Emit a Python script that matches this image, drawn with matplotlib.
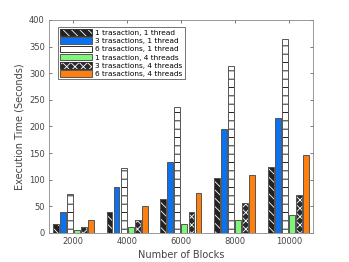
import numpy as np
import matplotlib
matplotlib.use("Agg")
import matplotlib.pyplot as plt

blocks = ["2000", "4000", "6000", "8000", "10000"]
labels = ["1 trasaction, 1 thread", "3 trasactions, 1 thread", "6 trasactions, 1 thread",
          "1 trasaction, 4 threads", "3 trasactions, 4 threads", "6 trasactions, 4 threads"]
t1_1 = [17, 40, 64, 104, 123]
t3_1 = [40, 87, 134, 195, 216]
t6_1 = [73, 122, 237, 314, 365]
t1_4 = [5, 11, 17, 25, 33]
t3_4 = [11, 25, 40, 57, 72]
t6_4 = [24, 50, 75, 109, 146]
series = [t1_1, t3_1, t6_1, t1_4, t3_4, t6_4]

# face, hatch colour, hatch
styles = [("#222222", "white", "\\\\\\\\"),
          ("#0a72f0", None, None),
          ("white", "black", "--"),
          ("#7ff57a", None, None),
          ("#2a2a2a", "white", "xxxx"),
          ("#ff7f0e", None, None)]

plt.rcParams["font.family"] = "DejaVu Sans"
plt.rcParams["hatch.linewidth"] = 0.6
fig = plt.figure(figsize=(3.49, 2.62), dpi=100)
ax = fig.add_axes([0.140, 0.111, 0.757, 0.813])

x = np.arange(len(blocks))
pitch = 0.13
w = 0.11
handles = []
for i, vals in enumerate(series):
    pos = x + (i - 2.5) * pitch
    face, hcol, hatch = styles[i]
    if hatch:
        ax.bar(pos, vals, w, color=face, edgecolor=hcol, hatch=hatch, linewidth=0, zorder=2)
        ax.bar(pos, vals, w, fill=False, edgecolor="#555555", linewidth=0.7, zorder=3)
        proxy = plt.Rectangle((0, 0), 1, 1, facecolor=face, edgecolor=hcol, hatch=hatch, linewidth=0)
        handles.append((proxy, plt.Rectangle((0, 0), 1, 1, fill=False, edgecolor="#333333", linewidth=0.7)))
    else:
        h = ax.bar(pos, vals, w, color=face, edgecolor="#555555", linewidth=0.7, zorder=3)
        handles.append(h)

ax.set_xlim(-0.45, 4.45)
ax.set_ylim(0, 400)
ax.set_xticks(x)
ax.set_xticklabels(blocks)
ax.set_yticks(range(0, 401, 50))
ax.tick_params(direction="in", length=2, width=0.5, labelsize=6, colors="#444444",
               top=True, right=True, pad=3)
for s in ax.spines.values():
    s.set_color("#888888")
    s.set_linewidth(0.6)
ax.set_xlabel("Number of Blocks", fontsize=7, color="#444444", labelpad=3)
ax.set_ylabel("Execution Time (Seconds)", fontsize=7, color="#444444", labelpad=3)

leg = ax.legend(handles, labels, loc="upper left", fontsize=5.3, frameon=True, fancybox=False,
                edgecolor="#333333", handlelength=4.4, handleheight=1.0, labelspacing=0.2,
                handletextpad=0.4, borderpad=0.3, bbox_to_anchor=(0.02, 0.985))
leg.get_frame().set_linewidth(0.6)

fig.savefig("out.png", dpi=100)
